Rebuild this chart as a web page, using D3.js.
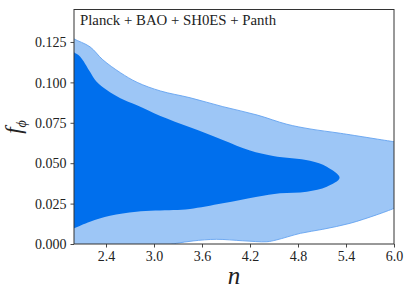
<!DOCTYPE html>
<html><head><meta charset="utf-8">
<script src="https://cdn.jsdelivr.net/npm/d3@7"></script>
<style>body{margin:0;background:#fff}svg{display:block}</style>
</head><body>
<script>
// ---- data ----
const xTicks = [2.4, 3.0, 3.6, 4.2, 4.8, 5.4, 6.0];
const yTicks = [0.000, 0.025, 0.050, 0.075, 0.100, 0.125];
const legendText = "Planck + BAO + SH0ES + Panth";

// outer (95%) contour
const outerUpperN = [1.95, 2.0, 2.2, 2.36, 2.58, 2.79, 3.08, 3.45, 3.86, 4.29, 4.66, 4.95, 5.33, 6.0, 6.05];
const outerUpperF = [0.1285, 0.1269, 0.122, 0.114, 0.106, 0.100, 0.0947, 0.0905, 0.085, 0.0798, 0.0741, 0.0712, 0.0685, 0.0633, 0.063];
const outerLowerN = [1.95, 2.0, 3.0, 3.28, 3.49, 3.78, 4.11, 4.41, 4.53, 4.83, 5.11, 5.45, 5.78, 6.0, 6.05];
const outerLowerF = [-0.002, -0.002, -0.002, 0.0004, 0.0019, 0.0029, 0.002, 0.0014, 0.0025, 0.0066, 0.0091, 0.0128, 0.018, 0.022, 0.023];

// inner (68%) contour
const innerUpperN = [1.95, 2.0, 2.075, 2.2, 2.28, 2.41, 2.58, 2.78, 3.08, 3.45, 3.86, 4.2, 4.49, 4.95, 5.16, 5.32];
const innerUpperF = [0.121, 0.1186, 0.116, 0.1066, 0.1005, 0.0953, 0.0902, 0.086, 0.0792, 0.0722, 0.0644, 0.0578, 0.0545, 0.0515, 0.0478, 0.041];
const innerLowerN = [5.16, 4.91, 4.575, 4.29, 3.86, 3.45, 3.24, 2.78, 2.45, 2.2, 2.0, 1.95];
const innerLowerF = [0.0355, 0.0324, 0.0314, 0.0293, 0.0252, 0.0217, 0.021, 0.02, 0.0175, 0.0138, 0.0097, 0.0088];

const W = 411, H = 298;
const m = {l: 74, r: 17, t: 9.5, b: 54};
const svg = d3.select("body").append("svg").attr("width", W).attr("height", H);

const x = d3.scaleLinear().domain([2.0, 6.0]).range([m.l, W - m.r]);
const y = d3.scaleLinear().domain([0, 0.1451]).range([H - m.b, m.t]);

svg.append("defs").append("clipPath").attr("id", "clip")
  .append("rect").attr("x", m.l).attr("y", m.t).attr("width", W - m.r - m.l).attr("height", H - m.b - m.t);

const g = svg.append("g").attr("clip-path", "url(#clip)");

const line = d3.line().x(d => x(d[0])).y(d => y(d[1])).curve(d3.curveCatmullRom.alpha(0.5));
const ou = outerUpperN.map((n, i) => [n, outerUpperF[i]]);
const ol = outerLowerN.map((n, i) => [n, outerLowerF[i]]).reverse();
const outerPath = line(ou) + "L" + line(ol).slice(1) + "Z";
g.append("path").attr("d", outerPath).attr("fill", "#9dc6f6")
  .attr("stroke", "#64a3ef").attr("stroke-width", 0.9);

const inner = innerUpperN.map((n, i) => [n, innerUpperF[i]])
  .concat(innerLowerN.map((n, i) => [n, innerLowerF[i]]));
const closed = d3.line().x(d => x(d[0])).y(d => y(d[1])).curve(d3.curveCatmullRomClosed.alpha(0.5));
g.append("path").attr("d", closed(inner)).attr("fill", "#006fed");

// axes
const font = "'Liberation Serif', 'DejaVu Serif', serif";
const xAxis = svg.append("g").attr("transform", `translate(0,${H - m.b})`)
  .call(d3.axisBottom(x).tickValues(xTicks).tickFormat(d3.format(".1f")).tickSize(3.5).tickPadding(4));
const yAxis = svg.append("g").attr("transform", `translate(${m.l},0)`)
  .call(d3.axisLeft(y).tickValues(yTicks).tickFormat(d3.format(".3f")).tickSize(3.5).tickPadding(4));
[xAxis, yAxis].forEach(a => {
  a.select(".domain").remove();
  a.selectAll("line").attr("stroke", "#333").attr("stroke-width", 0.9);
  a.selectAll("text").attr("font-family", font).attr("font-size", 14).attr("fill", "#222");
});
yAxis.selectAll("text").attr("dy", "0.34em");

svg.append("rect").attr("x", m.l).attr("y", m.t).attr("width", W - m.r - m.l).attr("height", H - m.b - m.t)
  .attr("fill", "none").attr("stroke", "#333").attr("stroke-width", 1);

svg.append("text").attr("x", m.l + 6).attr("y", m.t + 15).attr("font-family", font)
  .attr("font-size", 14.8).attr("fill", "#222").text(legendText);

svg.append("text").attr("x", (m.l + W - m.r) / 2).attr("y", 284).attr("text-anchor", "middle")
  .attr("font-family", font).attr("font-style", "italic").attr("font-size", 25).attr("fill", "#222").text("n");

const yl = svg.append("text").attr("transform", `translate(21,127) rotate(-90)`).attr("text-anchor", "middle")
  .attr("font-family", font).attr("font-style", "italic").attr("font-size", 23).attr("fill", "#222");
yl.append("tspan").text("f");
yl.append("tspan").attr("font-size", 14).attr("dy", 5).text("ϕ");
</script>
</body></html>
